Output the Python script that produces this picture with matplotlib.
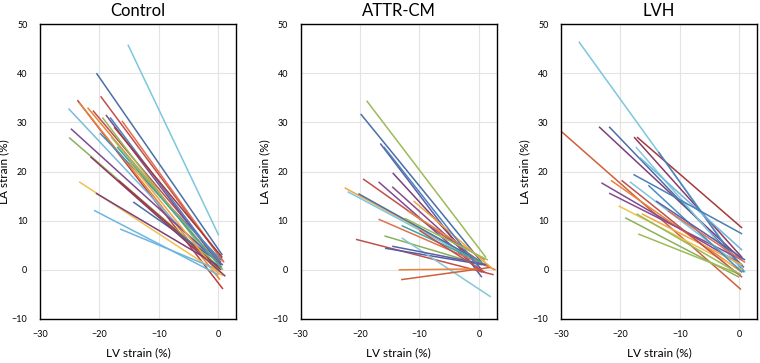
import matplotlib
matplotlib.use("Agg")
import matplotlib.pyplot as plt

# ---------------- data (start LV, start LA, end LV, end LA) ----------------
titles = ["Control", "ATTR-CM", "LVH"]

control_lv_start = [-15.2, -20.5, -19.8, -23.7, -23.4, -25.2, -21.1, -18.9, -18.2, -16.2,
                    -19.5, -19.9, -24.8, -25.1, -16.8, -23.4, -20.6, -20.9, -16.5, -14.3,
                    -22.0, -17.5, -18.0, -17.0, -15.0, -21.5]
control_la_start = [45.8, 40.0, 35.3, 34.5, 34.0, 32.8, 32.4, 31.5, 31.0, 30.3,
                    31.0, 27.8, 28.7, 26.9, 18.2, 17.9, 15.6, 12.1, 8.3, 13.8,
                    33.0, 29.0, 27.0, 25.0, 22.0, 23.0]
control_lv_end = [0.1, 0.7, 0.8, 0.8, 0.3, 0.3, 0.5, 0.6, 0.5, 1.0,
                  0.3, 0.5, 0.5, 0.3, 0.5, 0.8, 0.5, 0.0, 0.0, 0.8,
                  0.5, 0.7, 0.8, 0.5, 0.2, 1.2]
control_la_end = [7.0, 3.0, 1.8, -3.9, -2.0, 0.0, 1.5, 0.5, 1.0, 1.5,
                  -0.5, 2.0, 1.0, 0.5, 0.0, -1.2, 0.5, -1.0, 0.0, 1.0,
                  0.5, 2.5, 0.0, 0.5, -1.0, -1.3]
control_colors = ["#7CC6DE", "#4A6FA5", "#C0504D", "#B8403A", "#E8833A", "#7CB9E0", "#C0504D",
                  "#7D4C93", "#4F81BD", "#E07050", "#9BBB59", "#4A8FC0", "#7D4C93", "#8DB05A",
                  "#A33B3B", "#F0C24F", "#7D3F7A", "#6DB6DF", "#6DB6DF", "#4A6FA5",
                  "#E8833A", "#A33B3B", "#9BBB59", "#3FA6A0", "#F2A640", "#8B3A62"]

attr_lv_start = [-18.9, -19.9, -16.6, -14.5, -19.5, -16.9, -14.6, -22.6, -22.1, -20.3,
                 -16.9, -20.7, -15.9, -15.8, -13.0, -13.5, -13.1, -14.6, -12.0, -13.0,
                 -10.0, -11.0, -16.0, -12.5]
attr_la_start = [34.4, 31.7, 25.7, 19.7, 18.5, 17.9, 16.9, 16.7, 15.9, 15.5,
                 10.3, 6.2, 6.9, 4.4, 6.5, 0.0, -2.0, 4.8, 12.0, 9.0,
                 8.0, 14.0, 25.0, 10.5]
attr_lv_end = [1.2, 0.5, 0.5, 0.5, 1.0, 0.5, 0.0, 2.0, 1.0, 0.5,
               2.8, 2.5, 0.5, 1.0, 2.0, 0.5, 2.0, 1.5, 1.0, 0.5,
               1.0, 2.5, 0.0, 1.5]
attr_la_end = [2.5, 1.5, -1.5, 0.0, 1.0, -0.5, 1.0, 0.5, 1.0, 1.5,
               0.0, -1.0, 1.0, 1.0, -5.5, 0.2, 0.5, 1.0, 2.0, 1.5,
               -0.5, 0.0, 0.5, 2.0]
attr_colors = ["#9BBB59", "#4A6FA5", "#5A5FA8", "#7D3F7A", "#C0504D", "#7D4C93", "#8B4A8C",
               "#F2A640", "#7CC6DE", "#4A6FA5", "#E07050", "#C0504D", "#8DB05A", "#4F5FA0",
               "#86C7D8", "#E8833A", "#D0603A", "#5A5FA8", "#E8833A", "#3FA6A0",
               "#C0504D", "#F2A640", "#4F81BD", "#9BBB59"]

lvh_lv_start = [-27.0, -30.0, -23.6, -21.9, -17.7, -17.2, -17.4, -13.6, -16.8, -17.8,
                -23.2, -21.6, -21.9, -18.4, -20.3, -19.2, -17.0, -16.4, -15.3, -19.8,
                -17.3, -14.0, -12.0]
lvh_la_start = [46.4, 28.2, 29.1, 29.1, 27.0, 27.0, 25.0, 24.0, 22.9, 19.4,
                17.7, 18.2, 15.6, 17.9, 13.0, 10.6, 7.3, 11.4, 17.2, 18.2,
                11.4, 14.0, 12.0]
lvh_lv_end = [1.0, 0.3, 0.5, 0.8, 0.5, 0.5, 0.5, 0.8, 0.5, 0.5,
              0.5, 0.5, 0.5, 0.5, 0.5, 0.0, 0.3, 0.5, 0.5, 0.5,
              0.3, 1.0, 1.0]
lvh_la_end = [-0.5, -4.0, 2.0, 0.5, 2.5, 8.5, 0.0, -0.5, 4.0, 7.3,
              1.0, -0.5, 2.0, 0.5, 0.0, -1.5, -1.0, 1.0, -0.5, -1.5,
              -1.0, 2.0, 1.5]
lvh_colors = ["#7CC6DE", "#D0603A", "#7D3F7A", "#4A6FA5", "#8B3A62", "#A33B3B", "#86C7D8",
              "#4F81BD", "#6DB6DF", "#4A7FB8", "#7D4C93", "#E8833A", "#8B4A8C", "#7CC6DE",
              "#F0C24F", "#8DB05A", "#9BBB59", "#F2A640", "#4A8FC0", "#C0504D",
              "#9BBB59", "#5A5FA8", "#E07050"]

x_ticks = [-30, -20, -10, 0]
y_ticks = [-10, 0, 10, 20, 30, 40, 50]

panels = [
    (control_lv_start, control_la_start, control_lv_end, control_la_end, control_colors),
    (attr_lv_start, attr_la_start, attr_lv_end, attr_la_end, attr_colors),
    (lvh_lv_start, lvh_la_start, lvh_lv_end, lvh_la_end, lvh_colors),
]

plt.rcParams['font.family'] = ['Lato', 'DejaVu Sans']

fig = plt.figure(figsize=(7.6, 3.63), dpi=100)
lefts = [40 / 760, 300.7 / 760, 561 / 760]
width = 196 / 760
bottom = 1 - 319 / 363
height = 295 / 363

for i, (xs, ys, xe, ye, cols) in enumerate(panels):
    ax = fig.add_axes([lefts[i], bottom, width, height])
    for a, b, c, d, col in zip(xs, ys, xe, ye, cols):
        ax.plot([a, c], [b, d], color=col, lw=1.1, solid_capstyle='butt')
    ax.set_xlim(-30, 3)
    ax.set_ylim(-10, 50)
    ax.set_xticks(x_ticks)
    ax.set_yticks(y_ticks)
    ax.grid(True, color="#e3e3e3", lw=0.8)
    ax.set_axisbelow(True)
    ax.tick_params(axis='x', length=0, labelsize=6.5, pad=8)
    ax.tick_params(axis='y', length=0, labelsize=6.5, pad=9)
    for s in ax.spines.values():
        s.set_color("black")
        s.set_linewidth(1.0)
    ax.set_title(titles[i], fontsize=12, pad=6)
    ax.set_xlabel("LV strain (%)", fontsize=8.5, labelpad=6)
    ax.set_ylabel("LA strain (%)", fontsize=8.5)
    ax.yaxis.set_label_coords(-0.155, 0.5)

fig.savefig("out.png", dpi=100)
